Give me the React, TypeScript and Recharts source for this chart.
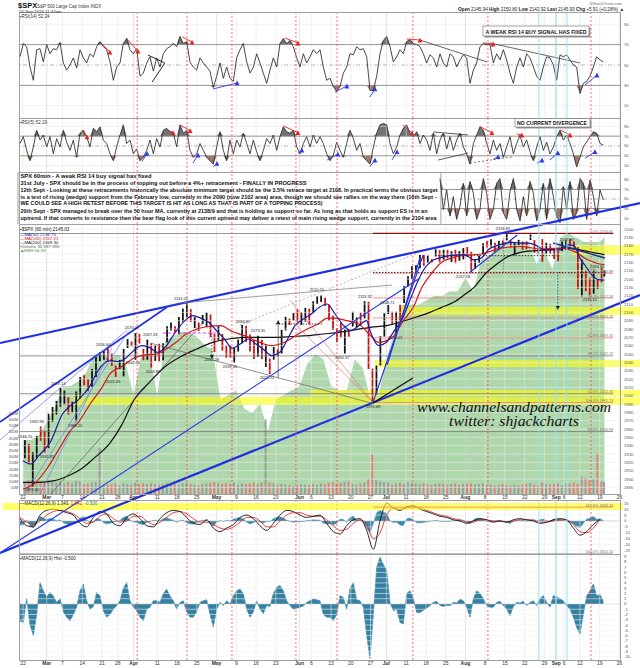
import React from "react";
import {
  ComposedChart, Line, Area, Bar, Cell, XAxis, YAxis,
  ReferenceLine, ReferenceArea, ReferenceDot,
} from "recharts";

const FONT = "'Liberation Sans', Arial, Helvetica, sans-serif";
// x axis = trading days counted from Mon 22 Feb 2016 (= 0)
const X_DOMAIN: [number, number] = [-1.013, 151.39];
const PLOT_LEFT = 19;

const TICK_DAYS = [0, 6, 10, 15, 20, 24, 28, 34, 39, 44, 49, 54, 59, 64, 70, 73, 78, 83, 88, 92, 97, 102, 107, 112, 117, 122, 127, 132, 135, 137, 141, 146, 151];
const TICK_LABELS = ["22", "Mar", "7", "14", "21", "28", "Apr", "11", "18", "25", "May", "9", "16", "23", "Jun", "6", "13", "20", "27", "Jul", "11", "18", "25", "Aug", "8", "15", "22", "29", "Sep", "6", "12", "19", "26"];
const RED_CYCLE_DAYS = [28.9, 41.5, 52.9, 69.1, 79.5, 98.7, 117.7, 143.8];
const CYAN_DAYS = [130.6, 134.9, 137.7];

// daily ranges of the hourly candles
const CLOSE = [1945.5, 1921.27, 1929.8, 1951.7, 1948.05, 1932.23, 1978.35, 1986.45, 1993.4, 1999.99,
  2001.76, 1979.26, 1989.26, 1989.57, 2022.19, 2019.64, 2015.93, 2027.22, 2040.59, 2049.58,
  2051.6, 2049.8, 2036.71, 2035.94, 2037.05, 2055.01, 2063.95, 2059.74, 2072.78, 2066.13,
  2045.17, 2066.66, 2041.91, 2047.6, 2041.99, 2061.72, 2082.42, 2082.78, 2080.73, 2094.34,
  2100.8, 2102.4, 2091.48, 2091.58, 2087.79, 2091.7, 2095.15, 2075.81, 2065.3, 2081.43,
  2063.37, 2051.12, 2050.63, 2057.14, 2058.69, 2084.39, 2064.46, 2064.11, 2046.61, 2066.66,
  2047.21, 2047.63, 2040.04, 2052.32, 2048.04, 2076.06, 2090.54, 2090.1, 2099.06, 2096.95,
  2099.33, 2105.26, 2099.13, 2109.41, 2112.13, 2119.12, 2115.48, 2096.07, 2079.06, 2075.32,
  2071.5, 2077.99, 2071.22, 2083.25, 2088.9, 2085.45, 2113.32, 2037.41, 2000.54, 2036.09,
  2070.77, 2098.86, 2102.95, 2088.55, 2099.73, 2097.9, 2129.9, 2137.16, 2152.14, 2152.43,
  2163.75, 2161.74, 2166.89, 2163.78, 2173.02, 2165.17, 2175.03, 2168.48, 2169.18, 2166.58,
  2170.06, 2173.6, 2170.84, 2157.03, 2163.79, 2164.25, 2182.87, 2180.89, 2181.74, 2175.49,
  2185.79, 2184.05, 2190.15, 2178.15, 2182.22, 2187.02, 2183.87, 2182.64, 2186.9, 2175.44,
  2172.47, 2169.04, 2180.38, 2176.12, 2170.95, 2170.86, 2179.98, 2186.48, 2186.16, 2181.3,
  2127.81, 2159.04, 2127.02, 2125.77, 2147.26, 2139.16, 2139.12, 2145.93];
const HIGH = [1946.7, 1942.0, 1932.1, 1951.8, 1962.96, 1958.0, 1978.4, 1986.5, 1993.7, 2009.13,
  2006.1, 1998.0, 1992.7, 2005.1, 2022.4, 2024.6, 2020.1, 2032.0, 2046.3, 2052.4,
  2053.9, 2056.6, 2051.0, 2036.0, 2042.7, 2056.0, 2067.9, 2065.0, 2075.07, 2074.0,
  2056.0, 2067.3, 2062.9, 2060.6, 2062.3, 2062.9, 2083.2, 2087.8, 2083.2, 2094.5,
  2104.4, 2111.05, 2103.9, 2094.3, 2087.8, 2096.9, 2099.9, 2097.4, 2074.0, 2083.4,
  2074.0, 2060.0, 2060.2, 2057.7, 2067.3, 2084.87, 2083.9, 2073.35, 2067.0, 2071.9,
  2067.0, 2061.5, 2044.5, 2058.35, 2055.6, 2079.0, 2094.7, 2092.6, 2099.1, 2103.5,
  2100.0, 2105.3, 2104.4, 2113.4, 2119.2, 2120.55, 2117.6, 2109.3, 2095.9, 2081.3,
  2087.7, 2079.6, 2079.3, 2100.7, 2093.9, 2099.7, 2113.32, 2112.7, 2032.6, 2036.1,
  2071.5, 2098.9, 2108.71, 2100.7, 2100.7, 2109.0, 2131.7, 2143.2, 2155.4, 2156.5,
  2169.0, 2169.0, 2168.1, 2164.0, 2175.6, 2174.6, 2175.1, 2175.0, 2173.4, 2175.0,
  2173.5, 2177.1, 2178.3, 2172.6, 2163.8, 2168.2, 2182.9, 2185.4, 2187.7, 2183.4,
  2185.8, 2186.3, 2193.81, 2186.3, 2183.0, 2187.0, 2185.0, 2185.2, 2193.42, 2186.7,
  2179.0, 2187.9, 2183.5, 2182.3, 2175.8, 2173.6, 2184.9, 2186.6, 2187.87, 2184.9,
  2178.2, 2163.3, 2150.5, 2141.3, 2151.3, 2139.2, 2153.6, 2150.8];
const LOW = [1924.9, 1919.4, 1891.0, 1925.4, 1945.8, 1931.8, 1937.1, 1968.8, 1977.4, 1986.8,
  1989.4, 1977.3, 1979.8, 1969.25, 1996.6, 2012.3, 2005.3, 2010.5, 2022.4, 2041.3,
  2043.1, 2040.6, 2035.7, 2022.49, 2031.9, 2023.2, 2057.3, 2059.2, 2043.1, 2062.6,
  2042.56, 2043.1, 2033.8, 2041.7, 2041.2, 2042.4, 2064.2, 2078.1, 2076.3, 2073.6,
  2088.6, 2093.8, 2088.5, 2081.2, 2077.5, 2085.8, 2082.3, 2070.0, 2052.3, 2066.7,
  2054.0, 2045.5, 2045.8, 2039.45, 2053.0, 2062.7, 2064.3, 2053.0, 2044.0, 2046.8,
  2044.0, 2034.5, 2025.91, 2043.2, 2047.3, 2050.4, 2078.2, 2085.0, 2090.0, 2088.7,
  2085.1, 2088.6, 2085.4, 2100.2, 2110.0, 2112.4, 2107.7, 2090.0, 2078.9, 2064.1,
  2070.0, 2050.37, 2070.7, 2083.0, 2082.0, 2084.4, 2092.7, 2032.0, 1991.68, 2001.1,
  2036.3, 2070.8, 2097.9, 2085.6, 2074.02, 2089.4, 2111.3, 2131.1, 2139.6, 2148.8,
  2152.9, 2155.8, 2159.1, 2159.6, 2167.0, 2159.8, 2163.2, 2164.9, 2160.2, 2159.0,
  2161.9, 2163.5, 2166.2, 2147.58, 2152.3, 2159.1, 2169.1, 2177.9, 2178.6, 2172.0,
  2175.2, 2179.0, 2186.3, 2178.1, 2168.5, 2180.5, 2175.1, 2175.96, 2186.8, 2171.3,
  2169.7, 2160.4, 2170.2, 2170.4, 2164.0, 2161.35, 2173.6, 2175.1, 2179.1, 2177.5,
  2127.8, 2119.12, 2125.5, 2119.9, 2122.4, 2127.9, 2135.9, 2142.92];
const PREV_CLOSE = 1917.78;
const VOLUME_M = [95, 110, 120, 105, 100, 90, 115, 95, 90, 100, 85, 95, 90, 105, 100, 80, 85, 90, 95, 370,
  80, 75, 80, 85, 70, 85, 80, 75, 90, 80, 85, 80, 85, 80, 75, 80, 90, 85, 80, 75,
  85, 90, 80, 75, 70, 80, 85, 90, 95, 85, 80, 85, 80, 90, 75, 85, 80, 85, 90, 80,
  90, 600, 90, 85, 75, 80, 75, 70, 65, 70, 80, 75, 70, 80, 75, 85, 80, 90, 95, 85,
  90, 95, 100, 80, 75, 85, 90, 120, 320, 110, 100, 95, 90, 75, 85, 90, 80, 95, 90, 85,
  80, 85, 80, 75, 80, 85, 80, 75, 80, 85, 75, 80, 80, 85, 75, 80, 85, 70, 75, 70,
  75, 80, 75, 70, 75, 70, 75, 80, 85, 75, 70, 90, 80, 75, 80, 85, 70, 80, 85, 90,
  80, 140, 130, 110, 120, 330, 100, 95];

// moving averages, read as [trading day, value]
const MA50 = [[0, 1922], [2, 1918], [4, 1928], [7, 1945], [10, 1978], [12, 1988], [14, 1995], [17, 2012], [19, 2030], [22, 2042], [24, 2041], [26, 2045], [28, 2054], [30, 2060], [32, 2058], [34, 2052], [36, 2058], [38, 2072], [41, 2090], [43, 2096], [45, 2093], [47, 2088], [49, 2078], [51, 2068], [53, 2057], [55, 2062], [57, 2068], [59, 2062], [61, 2055], [63, 2048], [65, 2052], [67, 2068], [69, 2085], [71, 2092], [73, 2098], [75, 2106], [77, 2110], [79, 2098], [81, 2085], [83, 2078], [85, 2084], [87, 2090], [88, 2076], [90, 2060], [92, 2064], [94, 2078], [96, 2092], [98, 2115], [100, 2138], [102, 2155], [104, 2163], [106, 2166], [108, 2168], [110, 2169], [112, 2169], [114, 2163], [116, 2165], [118, 2176], [120, 2180], [122, 2183], [124, 2184], [126, 2183], [128, 2183], [130, 2180], [132, 2175], [134, 2175], [136, 2175], [138, 2181], [139.5, 2180], [141, 2165], [142.5, 2155], [144, 2145], [146, 2139], [147.2, 2138.75]];
const MA100 = [[0, 1888], [3, 1895], [6, 1912], [9, 1935], [12, 1958], [14, 1968], [17, 1990], [20, 2010], [22, 2026], [25, 2035], [28, 2045], [31, 2049], [34, 2050], [36, 2055], [39, 2065], [41, 2073], [44, 2080], [47, 2083], [50, 2084], [53, 2077], [56, 2072], [59, 2066], [61, 2062], [63, 2060], [65, 2062], [67, 2066], [70, 2075], [72, 2080], [75, 2087], [77, 2093], [79, 2093], [82, 2090], [85, 2086], [88, 2072], [90, 2064], [92, 2066], [94, 2072], [96, 2088], [99, 2108], [101, 2130], [103, 2144], [106, 2160], [109, 2166], [111, 2168], [116, 2170], [121, 2177], [126, 2179], [131, 2176], [136, 2177], [140, 2172], [143, 2163], [146, 2158], [147.2, 2157.21]];
const MA200 = [[0, 1896], [4, 1896], [8, 1898], [12, 1905], [15, 1913], [18, 1925], [22, 1943], [25, 1965], [28, 1994], [32, 2016], [36, 2035], [40, 2047], [44, 2056], [48, 2064], [52, 2068], [56, 2070], [60, 2070], [64, 2070], [68, 2071], [72, 2072], [76, 2074], [80, 2076], [84, 2079], [88, 2082], [92, 2084], [96, 2089], [100, 2095], [103, 2100], [106, 2106], [109, 2112], [112, 2122], [114, 2129], [117, 2146], [120, 2158], [122, 2165], [126, 2172], [130, 2174], [133, 2175], [138, 2177], [142, 2174], [145, 2171], [147.2, 2169.3]];
// green area indicator (own scale 0-60)
const EBH = [[0, 12], [2, 12], [4, 13], [6, 16], [8, 19], [10, 24], [12, 24], [14, 25], [16, 27], [18, 31], [20, 31], [22, 30], [24, 31], [26, 29], [28, 22], [30, 31], [32, 31], [34, 22], [36, 34], [38, 35], [40, 36], [42, 36], [44, 35], [46, 33], [48, 32], [50, 21], [52, 22], [54, 23], [56, 19], [58, 18], [60, 20], [62, 14], [64, 21], [66, 22], [68, 23], [70, 24], [72, 29], [74, 31], [76, 30], [78, 24], [80, 23], [82, 23], [84, 30], [86, 28], [88, 21], [90, 22], [92, 30], [94, 36], [96, 42], [98, 42], [100, 42], [102, 43], [104, 44], [106, 44], [108, 45], [110, 45], [112, 48], [114, 45], [116, 52], [118, 53], [120, 55], [122, 56], [124, 56], [126, 56], [128, 56], [130, 51], [132, 54], [134, 50], [136, 57], [138, 58], [140, 57], [142, 56], [144, 56], [146, 56], [147.2, 57]];

// oscillators sampled every 0.844 trading day from day -0.76
const OSC_T0 = -0.76;
const OSC_DT = 0.8439;
const RSI14 = [58, 71, 68, 48, 35, 65, 66, 53, 70, 61, 66, 65, 72, 52, 45, 50, 57, 47, 65, 57, 52, 61, 58, 68, 73, 68, 65, 53, 35, 48, 52, 71, 76, 65, 61, 66, 39, 42, 52, 58, 44, 57, 48, 61, 66, 68, 71, 68, 78, 71, 73, 53, 48, 45, 57, 52, 48, 44, 28, 39, 52, 37, 48, 37, 34, 57, 65, 71, 53, 42, 48, 61, 52, 42, 32, 45, 57, 48, 71, 76, 71, 74, 68, 57, 48, 61, 52, 58, 65, 61, 65,
  48, 35, 37, 29, 24, 29, 42, 48, 61, 60, 68, 65, 66, 58, 25, 25, 39, 61, 74, 78, 68, 53, 58, 65, 61, 73, 75, 71, 70, 68, 61, 52, 60, 57, 48, 61, 52, 48, 61, 58, 48, 55, 60, 57, 32, 45, 52, 68, 71, 70, 70, 52, 61, 55, 65, 55, 42, 32, 48, 57, 48, 61, 57, 48, 39, 35, 48, 58, 57, 50, 35, 60, 58, 60, 55, 50, 48, 22, 32, 34, 39, 48, 58, 55, 53];
const RSI5 = [55, 69, 41, 20, 48, 82, 62, 72, 48, 69, 34, 65, 48, 82, 58, 41, 62, 27, 76, 82, 69, 48, 86, 79, 89, 62, 55, 34, 20, 48, 72, 93, 55, 62, 34, 44, 20, 27, 41, 62, 34, 65, 48, 82, 86, 79, 76, 48, 93, 76, 82, 41, 27, 34, 55, 41, 27, 20, 13, 48, 79, 41, 20, 62, 34, 62, 48, 76, 55, 34, 62, 38, 20, 41, 65, 55, 72, 41, 69, 89, 79, 76, 82, 48, 34, 55, 69, 48, 72, 55, 69,
  55, 34, 20, 31, 58, 41, 27, 55, 82, 65, 41, 55, 27, 20, 13, 48, 76, 93, 96, 93, 55, 34, 48, 72, 86, 93, 76, 69, 79, 55, 72, 62, 41, 76, 34, 62, 76, 44, 69, 41, 62, 76, 48, 34, 13, 55, 72, 89, 82, 55, 34, 62, 41, 55, 27, 48, 69, 34, 55, 72, 48, 62, 38, 20, 48, 69, 41, 58, 34, 48, 69, 82, 62, 72, 55, 34, 7, 27, 48, 58, 69, 79, 76, 55, 52];
const OSC3_START = 126;
const OSC3 = [93, 28, 69, 14, 55, 7, 35, 83, 14, 87, 62, 7, 28, 93, 62, 7, 28, 83, 93, 21, 7, 66, 93, 28, 4, 55, 14, 87, 62, 4, 28, 83, 7, 93, 55, 14, 0, 76, 28, 87, 7, 21, 93, 83, 7, 90, 55, 14, 69, 48];
const HIST = [-3.2, -3.5, 1.0, -4, -6, -2, 4.1, 2.5, 1.3, 2.2, 1.5, 0.3, 1.0, -1.5, -2.5, -3.2, -2.0, -0.6, 2.5, 3.8, 0.6, -1.0, -0.5, 2.2, 1.5, -1.3, -2.5, -2.0, -1.0, -0.3, 0.6, 3.0, 4.1, 0.6, -0.6, -1.3, -2.5, -3.2, -1.0, -0.6, 0.6, 0.6, 0.3, 2.0, 2.8, 1.5, 0.6, -1.0, 0.3, 0.6, -1.5, -2.5, -2.5, -1.5, 0.3, 0.6, 0.8, -2.0, -4.4, -1.0, 0.3, -0.3, 0.6, 0.0, 1.5, 2.5, 2.8, 2.0, -1.0, -2.5, -1.5, 0.6, -1.0, -1.8, -0.3, -0.5, 2.0, 3.2, 3.5, 2.5, 0.6, -0.3, -1.0, -0.8, -0.6, -0.4, 0.3, 0.6, 1.0, 0.8, 0.6,
  -2.0, -2.5, -2.5, -3.2, -2.0, 1.6, 1.2, -1.0, 3.0, 4.1, 0.8, 0.6, -0.6, -6.0, -10.4, -2.0, 7.0, 8.9, 7.5, 6.3, 0.3, -1.3, -1.0, -3.5, -3.8, 2.0, 2.5, 1.0, -1.6, -1.6, -1.2, -0.8, -0.3, 0.3, 0.5, -0.3, -0.5, -0.3, -0.3, 0.3, 0.2, 0.9, 0.6, -0.6, -2.5, 1.0, 2.5, 2.0, 1.0, -0.3, -0.6, -0.6, 0.3, 0.5, -0.3, -1.0, -2.2, -0.5, 0.3, 0.2, 0.5, -0.3, 0.3, 0.6, -0.3, 1.0, 1.6, 0.3, -0.6, 1.6, 1.3, 1.0, 0.6, -0.3, -1.0, -2.5, -4.5, -5.7, -2.0, 1.5, 2.5, 3.8, 1.5, 1.8, 0.5];
const MACD_DT = 1.6878;
const MACD = [2, -4, -5, 5, 9, 10, 9, 7, 5, -2, -5, 3, 8, 6, -2, -4, 3, 6, 2, -4, -5, 2, 7, 9, 8, 3, -2, -3, 1, -6, -9, -6, -3, 3, 5, 2, -4, -8, -2, 5, 9, 8, 5, 3, 4, 5,
  -2, -9, -11, -4, 1, 2, -8, -24, 0, 15, 11, 9, 12, 13, 10, 8, 6, 4, 3, 1, 0, -2, 0, 2, 1, -1, 0, -1, 1, 2, 1, 0, -2, -1, 1, 2, 1, -6, -12, -9, -3, 1.3];
const SIGNAL = [3, -1, -3, 0, 5, 8, 9, 8, 6, 2, -2, -1, 4, 6, 2, -1, 0, 4, 4, 0, -3, -1, 3, 7, 8, 6, 2, -1, -1, -3, -6, -7, -5, -1, 3, 3, 0, -5, -5, 0, 5, 7, 7, 5, 4, 4,
  1, -4, -8, -7, -2, 1, -3, -15, -10, 5, 11, 10, 11, 12, 11, 9, 7, 5, 4, 2, 1, -1, -1, 1, 1, 0, 0, -1, 0, 1, 1, 1, -1, -1, 0, 1, 1, -3, -9, -10, -6, 1.8];

// annotations (trading day, value)
const RSI_RED = [[19.5, 72.5, 22, 62.7], [26.1, 76.5, 29.1, 63.7], [40.3, 77.5, 42.8, 72.5], [66.3, 76.5, 69.6, 71.6], [97.2, 75.5, 100.5, 74.5], [116.5, 71.6, 119, 70.6]];
const RSI_BLUE = [[48.1, 26.5, 54.2, 32.4], [79, 23.5, 82, 29.4], [87.8, 18.6, 89.1, 26.5], [142.3, 30.4, 145.3, 40.2]];
const RSI_TREND = [[31.6, 59.8, 35.9, 52], [32.7, 33.3, 35.9, 52], [100.5, 74.5, 117.5, 53], [118.2, 71.6, 141, 52]];
const RSI5_RED = [[14.9, 82.7, 16.2, 68.4], [36.5, 82.7, 38, 77.1], [39.7, 92.9, 42.3, 81.2], [65.9, 90.8, 69.6, 77.1], [96.2, 92.9, 98.5, 76.5], [115.7, 89.4, 118.7, 77.1], [125, 74.5, 126.3, 72.4], [136, 82.7, 138.5, 72.4]];
const RSI5_BLUE = [[30.1, 18, 31.4, 35.1], [43, 15.3, 44.3, 31.6], [48.1, 7.8, 49.1, 14.7], [69.6, 35.1, 70.6, 41.8], [77, 21.4, 79.7, 33.7], [87.8, 7.8, 89.1, 21.4], [93.4, 21.4, 94.7, 38.4], [119, 22.9, 120.3, 28.2], [130.1, 14.7, 131.4, 21.4], [133.4, 21.4, 135.4, 36.3], [142.3, 24.9, 144.8, 38.4]];
const RSI5_TREND = [[103.8, 78.6, 112.7, 72.4], [105.1, 21.4, 112.7, 35.7]];

type Seg = [number, number, number, number, string, number, string?];
const PRICE_LINES: Seg[] = [
  [-5.82, 2063.2, 156.2, 2231.2, "#1f2fe0", 2.2],
  [-5.82, 1811.2, 156.2, 2120.8, "#1f2fe0", 2.2],
  [-5.82, 1811.2, 100.5, 2141.2, "#2a3ae8", 1.1],
  [-5.82, 1968.4, 36.5, 2106.4, "#1f2fe0", 1.6],
  [-5.82, 1946.8, 26.3, 2078.8, "#6a78f0", 0.7],
  [0.5, 1882, 26.6, 2076.4, "#6a78f0", 0.7],
  [4.3, 1882, 22.5, 2057.2, "#6a78f0", 0.7],
  [6.8, 1880.8, 46.1, 2090.8, "#444444", 0.6],
  [39.7, 2111.2, 93.4, 2132.8, "#777777", 0.7],
  [54.9, 2084.8, 100.5, 2172.4, "#888888", 0.6, "2 2"],
  [32.2, 2063.2, 88.1, 1991.2, "#666666", 0.7],
  [67.6, 2114.8, 88.6, 1991.8, "#e06666", 0.6],
  [68.4, 2088.4, 88.6, 1991.8, "#e06666", 0.6],
  [88.6, 1991.2, 98.7, 2021.2, "#111111", 1.4],
  [88.6, 1991.8, 101.3, 2168.8, "#1f2fe0", 1.1],
  [92.2, 2036.8, 100.5, 2165.2, "#1f2fe0", 1.1],
  [113.2, 2148.4, 125.1, 2192.8, "#1f2fe0", 1.1],
  [134.2, 2183.2, 147.3, 2165.2, "#1a2a9a", 1.4],
  [35.4, 2075.2, 49.1, 2075.2, "#e040e0", 1, "3 2"],
  [135.4, 2148.4, 135.4, 2107, "#222222", 0.7, "1.5 1.5"],
  [47.8, 2075.2, 47.8, 2048, "#222222", 0.7, "1.5 1.5"],
  [64.6, 2021.2, 64.6, 2086, "#444444", 0.7],
  [121.7, 2189, 121.7, 2148, "#444444", 0.6, "1.5 1.5"],
];
const ARROW_HEADS = [[135.4, 2105.2, "down"], [47.8, 2046.4, "down"], [64.6, 2088.4, "up"]];
const YELLOW_BANDS = [[139.2, 156.2, 2168.8, 2180.8], [95.4, 156.2, 2096.8, 2106.4], [89.1, 156.2, 2034.4, 2042.8], [72.7, 156.2, 1999.6, 2006.8], [12.7, 156.2, 1988.8, 1998.4], [-5.06, 151.9, 1862.8, 1871.2]];
const RED_FIB = [[2194.81, "0.0%"], [2146.89, "23.6%"], [2117.24, "38.2%"], [2093.28, "50.0%"], [2069.31, "61.8%"], [1991.74, "100.0%"], [1866.24, "161.8%"]];
const GRAY_FIB = [[2194.6, ""], [2047.72, "38.2%"], [2002.35, "50.0%"], [1956.93, "61.8%"], [1810.1, "100.0%"]];
const DOTTED_LEVELS = [[2147.85, 88.6, 147.5], [2168, 105, 136], [2086, 64, 76]];
const PRICE_NOTES = [[0.5, 1950.4, "1946.70"], [2.3, 1886.8, "1891.00"], [3.5, 1968.4, "1962.96"], [6.1, 1926.4, "1931.81"], [8.9, 2014, "2009.13"], [13.2, 1963.6, "1969.25"], [20.3, 2060.8, "2056.60"], [22.8, 2016.4, "2022.49"], [27.6, 2081.2, "2075.07"], [27.8, 2039.2, "2042.56"], [32.2, 2072.8, "2067.33"], [32.9, 2028.4, "2033.80"], [40, 2116, "2111.05"], [47.8, 2043, "2052.28"], [52.4, 2034.4, "2039.45"], [55.7, 2088.4, "2084.87"], [59.5, 2077.6, "2073.35"], [61.8, 2021.2, "2025.91"], [74.4, 2126.8, "2120.55"], [80.8, 2045.2, "2050.37"], [86.6, 2118.4, "2113.32"], [88.6, 1986.4, "1991.68"], [92.2, 2111.2, "2108.71"], [94.2, 2069.2, "2074.02"], [111.4, 2142.4, "2147.58"], [121.5, 2200, "2193.81"], [137.7, 2186.8, "2187.87"], [143.5, 2114.8, "2119.12"], [145.3, 2154.4, "2163.30"]];

const PRICE_TICKS = [1890, 1900, 1910, 1920, 1930, 1940, 1950, 1960, 1970, 1980, 1990, 2000, 2010, 2020, 2030, 2040, 2050, 2060, 2070, 2080, 2090, 2100, 2110, 2120, 2130, 2140, 2150, 2160, 2170, 2180, 2190, 2200];
const VOL_TICKS = [50, 100, 150, 200, 250, 300, 350, 400, 450, 500, 550, 600, 650];
const OSC_TICKS = [10, 30, 50, 70, 90];
const MACD_TICKS = [15, 10, 5, 0, -5, -10, -15, -20, -25];
const HIST_TICKS = [9, 8, 7, 6, 5, 4, 3, 2, 1, 0, -1, -2, -3, -4, -5, -6, -7, -8, -9, -10];

const priceRows = CLOSE.map((c, i) => ({
  t: i === CLOSE.length - 1 ? i + 0.2 : i + 0.5,
  range: [LOW[i], HIGH[i]],
  vol: VOLUME_M[i],
  up: c >= (i === 0 ? PREV_CLOSE : CLOSE[i - 1]),
}));
const oscRows = RSI14.map((v, k) => ({
  t: OSC_T0 + OSC_DT * k,
  rsi14: v,
  rsi5: RSI5[k],
  hist: HIST[k],
  osc3: k >= OSC3_START ? OSC3[k - OSC3_START] : undefined,
}));
const macdRows = MACD.map((v, j) => ({ t: OSC_T0 + MACD_DT * j, macd: v, signal: SIGNAL[j] }));
const pairs = (arr: number[][]) => arr.map(([t, v]) => ({ t, v }));

function DateTick(props: any) {
  const { x, y, payload } = props;
  const label = TICK_LABELS[TICK_DAYS.indexOf(payload.value)] ?? "";
  const month = /[A-Z]/.test(label);
  return (
    <text x={x} y={y + 5.2} textAnchor="middle" fontSize={5} fontWeight={month ? 700 : 400} fill="#333" fontFamily={FONT}>
      {label}
    </text>
  );
}
function RightTick(props: any) {
  const { x, y, payload } = props;
  return <text x={x + 3} y={y + 1.5} fontSize={4.2} fill="#555" fontFamily={FONT}>{payload.value}</text>;
}
function VolTick(props: any) {
  const { y, payload } = props;
  return <text x={PLOT_LEFT - 0.8} y={y + 1.5} fontSize={3.8} fill="#555" textAnchor="end" fontFamily={FONT}>{payload.value}M</text>;
}

const verticals = (yId: string, pre: string, from = -99) => [
  ...TICK_DAYS.filter((d) => d > from).map((d) => (
    <ReferenceLine key={`${pre}g${d}`} x={d} yAxisId={yId} stroke={/[A-Z]/.test(TICK_LABELS[TICK_DAYS.indexOf(d)]) ? "#d2d2d2" : "#e6e6e6"} strokeWidth={0.6} />
  )),
];
const cycleLines = (yId: string, pre: string) => [
  ...CYAN_DAYS.map((d) => <ReferenceLine key={`${pre}c${d}`} x={d} yAxisId={yId} stroke="#8fe6ee" strokeWidth={1} />),
  ...RED_CYCLE_DAYS.map((d) => <ReferenceLine key={`${pre}r${d}`} x={d} yAxisId={yId} stroke="#ff4a4a" strokeWidth={0.8} strokeDasharray="2 2" />),
];
const levels = (yId: string, pre: string, from?: number) => {
  const mk = (v: number, stroke: string, w: number, dash?: string) =>
    from === undefined ? (
      <ReferenceLine key={`${pre}l${v}`} y={v} yAxisId={yId} stroke={stroke} strokeWidth={w} strokeDasharray={dash} />
    ) : (
      <ReferenceLine key={`${pre}l${v}`} segment={[{ x: from, y: v }, { x: X_DOMAIN[1], y: v }]} yAxisId={yId} stroke={stroke} strokeWidth={w} strokeDasharray={dash} />
    );
  return [mk(90, "#e8e8e8", 0.6), mk(10, "#e8e8e8", 0.6), mk(70, "#8a8a8a", 0.9), mk(30, "#8a8a8a", 0.9), mk(50, "#9a9a9a", 0.7, "4 2 1 2")];
};
const seg = (key: string, yId: string, s: number[], stroke: string, w: number, dash?: string) => (
  <ReferenceLine key={key} yAxisId={yId} ifOverflow="visible" segment={[{ x: s[0], y: s[1] }, { x: s[2], y: s[3] }]} stroke={stroke} strokeWidth={w} strokeDasharray={dash} />
);
const tri = (key: string, yId: string, x: number, y: number, color: string, dir: "up" | "down" = "up", size = 2.4) => (
  <ReferenceDot key={key} x={x} y={y} yAxisId={yId} r={0} ifOverflow="visible"
    shape={(p: any) => (
      <path d={dir === "up"
        ? `M${p.cx - size},${p.cy + size}L${p.cx + size},${p.cy + size}L${p.cx},${p.cy - size}Z`
        : `M${p.cx - size},${p.cy - size}L${p.cx + size},${p.cy - size}L${p.cx},${p.cy + size}Z`} fill={color} />
    )} />
);
const note = (key: string, yId: string, x: number, y: number, text: string, anchor = "middle", size = 4, color = "#222") => (
  <ReferenceDot key={key} x={x} y={y} yAxisId={yId} r={0} ifOverflow="visible"
    shape={(p: any) => <text x={p.cx} y={p.cy + 1.4} textAnchor={anchor} fontSize={size} fill={color} fontFamily={FONT}>{text}</text>} />
);
const arrows = (yId: string, pre: string, list: number[][], color: string) =>
  list.flatMap((s, i) => [seg(`${pre}${i}`, yId, s, color, 0.9), tri(`${pre}h${i}`, yId, s[2], s[3], color)]);

const xHidden = (id: string | number = 0) => (
  <XAxis xAxisId={id} dataKey="t" type="number" domain={X_DOMAIN} allowDataOverflow hide />
);
const rightAxis = (id: string, domain: [number, number], ticks: number[]) => (
  <YAxis yAxisId={id} orientation="right" width={19} type="number" domain={domain} allowDataOverflow ticks={ticks} interval={0}
    tick={<RightTick />} tickLine={false} axisLine={false} tickSize={0} tickMargin={0} />
);
const osc = (key: string, yId: string, color = "#333") => [
  <Area key={`${key}hi`} yAxisId={yId} type="linear" dataKey={(d: any) => (d[key] == null ? null : [70, Math.max(70, d[key])])} stroke="none" fill="#5c5c5c" fillOpacity={0.85} isAnimationActive={false} />,
  <Area key={`${key}lo`} yAxisId={yId} type="linear" dataKey={(d: any) => (d[key] == null ? null : [Math.min(30, d[key]), 30])} stroke="none" fill="#8e5e4c" fillOpacity={0.85} isAnimationActive={false} />,
  <Line key={`${key}ln`} yAxisId={yId} type="linear" dataKey={key} stroke={color} strokeWidth={0.9} dot={false} isAnimationActive={false} />,
];

const frame = (top: number, h: number) => (
  <div key={top} style={{ position: "absolute", left: 19, top, width: 602, height: h, border: "1px solid #a0a0a0", boxSizing: "border-box", pointerEvents: "none" }} />
);

const BOX_LINES = [
  ["SPX 60min - A weak RSI 14 buy signal has fixed", 178, 131],
  ["31st July - SPX should be in the process of topping out before a 4%+ retracement - FINALLY IN PROGRESS", 185, 286],
  ["12th Sept - Looking at these retracements historically the absolute minimum target should be the 3.5% retrace target at 2108. In practical terms the obvious target", 191.8, 417],
  ["is a test of rising (wedge) support from the February low, currently in the 2090 (now 2102 area) area, though we should see rallies on the way there (16th Sept -", 198.6, 416],
  ["WE COULD SEE A HIGH RETEST BEFORE THIS TARGET IS HIT AS LONG AS THAT IS PART OF A TOPPING PROCESS)", 205.3, 302],
  ["20th Sept - SPX managed to break over the 50 hour MA, currently at 2138/9 and that is holding as support so far. As long as that holds as support ES is in an", 212.8, 407],
  ["uptrend. If that converts to resistance then the bear flag look of this current uptrend may deliver a retest of main rising wedge support, currently in the 2104 area", 219.6, 416],
];

export default function App() {
  return (
    <div style={{ position: "absolute", left: 0, top: 0, width: 640, height: 668, background: "#fff", overflow: "hidden", fontFamily: FONT }}>
      {/* RSI(14) */}
      <div style={{ position: "absolute", left: 0, top: 12 }}>
        <ComposedChart width={640} height={106} data={oscRows} margin={{ top: 0, right: 0, bottom: 0, left: 19 }}>
          {xHidden()}
          {rightAxis("r14", [-2, 102], OSC_TICKS)}
          {verticals("r14", "a")}
          {levels("r14", "a")}
          {osc("rsi14", "r14")}
          {RSI_TREND.map((s, i) => seg(`at${i}`, "r14", s, i < 2 ? "#111" : "#555", 0.9))}
          {arrows("r14", "ar", RSI_RED, "#e82020")}
          {arrows("r14", "ab", RSI_BLUE, "#2a3ae8")}
          {cycleLines("r14", "a")}
        </ComposedChart>
      </div>
      {/* RSI(5) */}
      <div style={{ position: "absolute", left: 0, top: 118 }}>
        <ComposedChart width={640} height={54} data={oscRows} margin={{ top: 0, right: 0, bottom: 0, left: 19 }}>
          {xHidden()}
          {rightAxis("r5", [-3, 107], OSC_TICKS)}
          {verticals("r5", "b")}
          {levels("r5", "b")}
          {osc("rsi5", "r5")}
          {RSI5_TREND.map((s, i) => seg(`bt${i}`, "r5", s, "#333", 0.8))}
          {seg("bd", "r5", [113.2, 15.3, 123.8, 27.6], "#555", 0.8, "2 2")}
          {arrows("r5", "br", RSI5_RED, "#e82020")}
          {arrows("r5", "bb", RSI5_BLUE, "#2a3ae8")}
          {cycleLines("r5", "b")}
        </ComposedChart>
      </div>
      {/* third oscillator, mostly covered by the comment box */}
      <div style={{ position: "absolute", left: 0, top: 172 }}>
        <ComposedChart width={640} height={52} data={oscRows} margin={{ top: 0, right: 0, bottom: 0, left: 19 }}>
          {xHidden()}
          {rightAxis("o3", [-2.6, 106.8], OSC_TICKS)}
          {verticals("o3", "c", 105.8)}
          {levels("o3", "c", 105.8)}
          {osc("osc3", "o3")}
          <ReferenceArea yAxisId="o3" x1={-1.27} x2={105.8} y1={-4.7} y2={108.9} fill="#ffffff" fillOpacity={1} stroke="#8a8a8a" strokeWidth={0.8} ifOverflow="visible" />
          {cycleLines("o3", "c")}
        </ComposedChart>
      </div>
      {/* MACD */}
      <div style={{ position: "absolute", left: 0, top: 500 }}>
        <ComposedChart width={640} height={54} data={macdRows} margin={{ top: 0, right: 0, bottom: 0, left: 19 }}>
          {xHidden()}
          {rightAxis("m", [-28, 17.8], MACD_TICKS)}
          {verticals("m", "d")}
          {MACD_TICKS.map((v) => <ReferenceLine key={`dm${v}`} y={v} yAxisId="m" stroke={v === 0 ? "#bbb" : "#efefef"} strokeWidth={0.6} />)}
          <Area data={oscRows} yAxisId="m" type="linear" dataKey="hist" baseValue={0} stroke="#4aa3c8" strokeWidth={0.6} fill="#2b7a9c" fillOpacity={0.9} isAnimationActive={false} />
          <Line yAxisId="m" type="monotone" dataKey="signal" stroke="#e03030" strokeWidth={0.9} dot={false} isAnimationActive={false} />
          <Line yAxisId="m" type="monotone" dataKey="macd" stroke="#111" strokeWidth={0.9} dot={false} isAnimationActive={false} />
          {cycleLines("m", "d")}
        </ComposedChart>
      </div>
      {/* MACD histogram */}
      <div style={{ position: "absolute", left: 0, top: 554 }}>
        <ComposedChart width={640} height={114} data={oscRows} margin={{ top: 0, right: 0, bottom: 0, left: 19 }}>
          <XAxis dataKey="t" type="number" domain={X_DOMAIN} allowDataOverflow ticks={TICK_DAYS} interval={0} tick={<DateTick />}
            tickLine={false} axisLine={false} tickSize={0} tickMargin={0} height={8} />
          {rightAxis("h", [-10.65, 9.5], HIST_TICKS)}
          {verticals("h", "e")}
          {HIST_TICKS.map((v) => <ReferenceLine key={`eh${v}`} y={v} yAxisId="h" stroke={v === 0 ? "#c8c8c8" : "#f1f1f1"} strokeWidth={0.6} />)}
          <Area yAxisId="h" type="linear" dataKey="hist" baseValue={0} stroke="#3b8db5" strokeWidth={0.7} fill="#2b7a9c" fillOpacity={0.95} isAnimationActive={false} />
          {cycleLines("h", "e")}
        </ComposedChart>
      </div>
      {/* price panel: full page svg so the trend lines can run past the panel */}
      <div style={{ position: "absolute", left: 0, top: 0 }}>
        <ComposedChart width={640} height={668} data={priceRows} margin={{ top: 224, right: 0, bottom: 164, left: 0 }}>
          <XAxis xAxisId={0} dataKey="t" type="number" domain={X_DOMAIN} allowDataOverflow ticks={TICK_DAYS} interval={0} tick={<DateTick />}
            tickLine={false} axisLine={false} tickSize={0} tickMargin={0} height={10} />
          {xHidden("vol")}
          <YAxis yAxisId="vol" orientation="left" width={19} type="number" domain={[0, 2170]} allowDataOverflow ticks={VOL_TICKS} interval={0}
            tick={<VolTick />} tickLine={false} axisLine={false} tickSize={0} tickMargin={0} />
          {rightAxis("p", [1882, 2206], PRICE_TICKS)}
          <YAxis yAxisId="g" hide type="number" domain={[0, 60]} />
          {PRICE_TICKS.map((v) => <ReferenceLine key={`pg${v}`} y={v} yAxisId="p" stroke="#ededed" strokeWidth={0.6} />)}
          {verticals("p", "p")}
          <Area data={pairs(EBH)} yAxisId="g" type="linear" dataKey="v" baseValue={0} stroke="none" fill="#7dbf79" fillOpacity={0.62} isAnimationActive={false} />
          {YELLOW_BANDS.map((b, i) => (
            <ReferenceArea key={`yb${i}`} yAxisId="p" x1={b[0]} x2={b[1]} y1={b[2]} y2={b[3]} fill="#ffff00" fillOpacity={0.6} stroke="none" ifOverflow="visible" />
          ))}
          <Bar xAxisId="vol" yAxisId="vol" dataKey="vol" barSize={2} isAnimationActive={false}>
            {priceRows.map((r, i) => <Cell key={i} fill={r.up ? "#9c9c9c" : "#e08080"} />)}
          </Bar>
          {GRAY_FIB.map(([v]) => seg(`gf${v}`, "p", [X_DOMAIN[0], v as number, 149.4, v as number], "#7a7a7a", 0.8))}
          {RED_FIB.map(([v], i) => seg(`rf${v}`, "p", [88.6, v as number, 149.4, v as number], i === 0 ? "#8b1010" : "#f07a7a", i === 0 ? 1.1 : 0.8))}
          {DOTTED_LEVELS.map(([v, a, b]) => seg(`dl${v}`, "p", [a, v, b, v], "#222", 0.9, "1.5 1.5"))}
          <Line data={pairs(MA200)} yAxisId="p" type="monotone" dataKey="v" stroke="#111" strokeWidth={1.2} dot={false} isAnimationActive={false} />
          <Line data={pairs(MA100)} yAxisId="p" type="monotone" dataKey="v" stroke="#d01818" strokeWidth={1.2} dot={false} isAnimationActive={false} />
          <Line data={pairs(MA50)} yAxisId="p" type="monotone" dataKey="v" stroke="#1a1aa6" strokeWidth={1.2} dot={false} isAnimationActive={false} />
          <Bar xAxisId={0} yAxisId="p" dataKey="range" barSize={2.6} isAnimationActive={false}>
            {priceRows.map((r, i) => <Cell key={i} fill={r.up ? "#111" : "#cc1010"} />)}
          </Bar>
          {PRICE_LINES.map((s, i) => seg(`pl${i}`, "p", s as unknown as number[], s[4], s[5], s[6]))}
          {ARROW_HEADS.map(([x, y, d], i) => tri(`pa${i}`, "p", x as number, y as number, "#222", d as "up" | "down", 2))}
          {cycleLines("p", "p")}
          {PRICE_NOTES.map(([x, y, t], i) => note(`pn${i}`, "p", x as number, y as number, t as string))}
          {RED_FIB.map(([v, lab]) => note(`rfl${v}`, "p", 149.4, (v as number) + 2.2, `${lab} ${(v as number).toFixed(2)}`, "end", 3.8, "#777"))}
          {GRAY_FIB.filter(([, lab]) => lab).map(([v, lab]) => note(`gfl${v}`, "p", 149.4, (v as number) + 2.2, `${lab} ${(v as number).toFixed(2)}`, "end", 3.8, "#777"))}
        </ComposedChart>
      </div>
      {frame(12, 107)}
      {frame(118, 55)}
      {frame(172, 53)}
      {frame(224, 271)}
      {frame(500, 55)}
      {frame(554, 107)}
      <svg width={640} height={668} style={{ position: "absolute", left: 0, top: 0, pointerEvents: "none" }} fontFamily={FONT}>
        <text x={18} y={8} fontSize={7.5} fontWeight={700} fill="#111">$SPX</text>
        <text x={37} y={7.5} fontSize={4.5} fill="#333">S&amp;P 500 Large Cap Index INDX</text>
        <text x={19} y={12.5} fontSize={4.3} fill="#333">20-Sep-2016 11:47am</text>
        <text x={20} y={17.5} fontSize={4.5} fill="#333">▪RSI(14) 52.24</text>
        <text x={622} y={4.5} fontSize={3.8} fill="#666" textAnchor="end">@StockCharts.com</text>
        <text x={458} y={10.5} fontSize={4.6} fill="#222" textLength={166} lengthAdjust="spacingAndGlyphs">
          <tspan fontWeight={700}>Open</tspan> 2145.94 <tspan fontWeight={700}>High</tspan> 2150.80 <tspan fontWeight={700}>Low</tspan> 2142.92 <tspan fontWeight={700}>Last</tspan> 2145.93 <tspan fontWeight={700}>Chg</tspan> +5.91 (+0.28%) ▲
        </text>
        <rect x={484.5} y={27.5} width={106} height={10} fill="#999" />
        <rect x={483} y={26} width={106} height={10} fill="#fff" stroke="#666" strokeWidth={0.6} />
        <text x={485.5} y={33.6} fontSize={6} fontWeight={700} fill="#111" textLength={101} lengthAdjust="spacingAndGlyphs">A WEAK RSI 14 BUY SIGNAL HAS FIXED</text>
        <text x={20} y={123.8} fontSize={4.5} fill="#333">▪RSI(5) 52.19</text>
        <rect x={516.5} y={120} width={75} height={8.5} fill="#999" />
        <rect x={515} y={118.5} width={75} height={8.5} fill="#fff" stroke="#666" strokeWidth={0.6} />
        <text x={517} y={125.2} fontSize={5.8} fontWeight={700} fill="#111" textLength={70} lengthAdjust="spacingAndGlyphs">NO CURRENT DIVERGENCE</text>
        {BOX_LINES.map(([t, y, w]) => (
          <text key={y as number} x={20.5} y={y as number} fontSize={6.2} fontWeight={700} fill="#111" textLength={w as number} lengthAdjust="spacingAndGlyphs">{t}</text>
        ))}
        <text x={20} y={231} fontSize={4.6} fill="#222">▪$SPX (60 min) 2145.03</text>
        <text x={20} y={235.6} fontSize={4.4} fill="#1a1aa6">—MA(50) 2138.75</text>
        <text x={20} y={239.8} fontSize={4.4} fill="#cc1111">—MA(100) 2157.21</text>
        <text x={20} y={244} fontSize={4.4} fill="#111">—MA(200) 2169.30</text>
        <text x={20} y={248.2} fontSize={4.4} fill="#666">▪Volume 34,997,380</text>
        <text x={20} y={252.4} fontSize={4.4} fill="#3b8f3b">▲EBH 56.94</text>
        <text x={20} y={505} fontSize={4.5} fill="#222">—MACD(12,26,9) 1.343, <tspan fill="#d02020">1.842</tspan>, <tspan fill="#2b7a9c">-0.500</tspan></text>
        <text x={20} y={559.5} fontSize={4.5} fill="#222">▪MACD(12,26,9) Hist -0.500</text>
        <text x={417} y={412} fontSize={15} fontStyle="italic" fontFamily="'Liberation Serif', 'DejaVu Serif', serif" fill="#111" textLength={194} lengthAdjust="spacingAndGlyphs">www.channelsandpatterns.com</text>
        <text x={449} y={425.5} fontSize={15} fontStyle="italic" fontFamily="'Liberation Serif', 'DejaVu Serif', serif" fill="#111" textLength={130} lengthAdjust="spacingAndGlyphs">twitter: shjackcharts</text>
      </svg>
    </div>
  );
}
